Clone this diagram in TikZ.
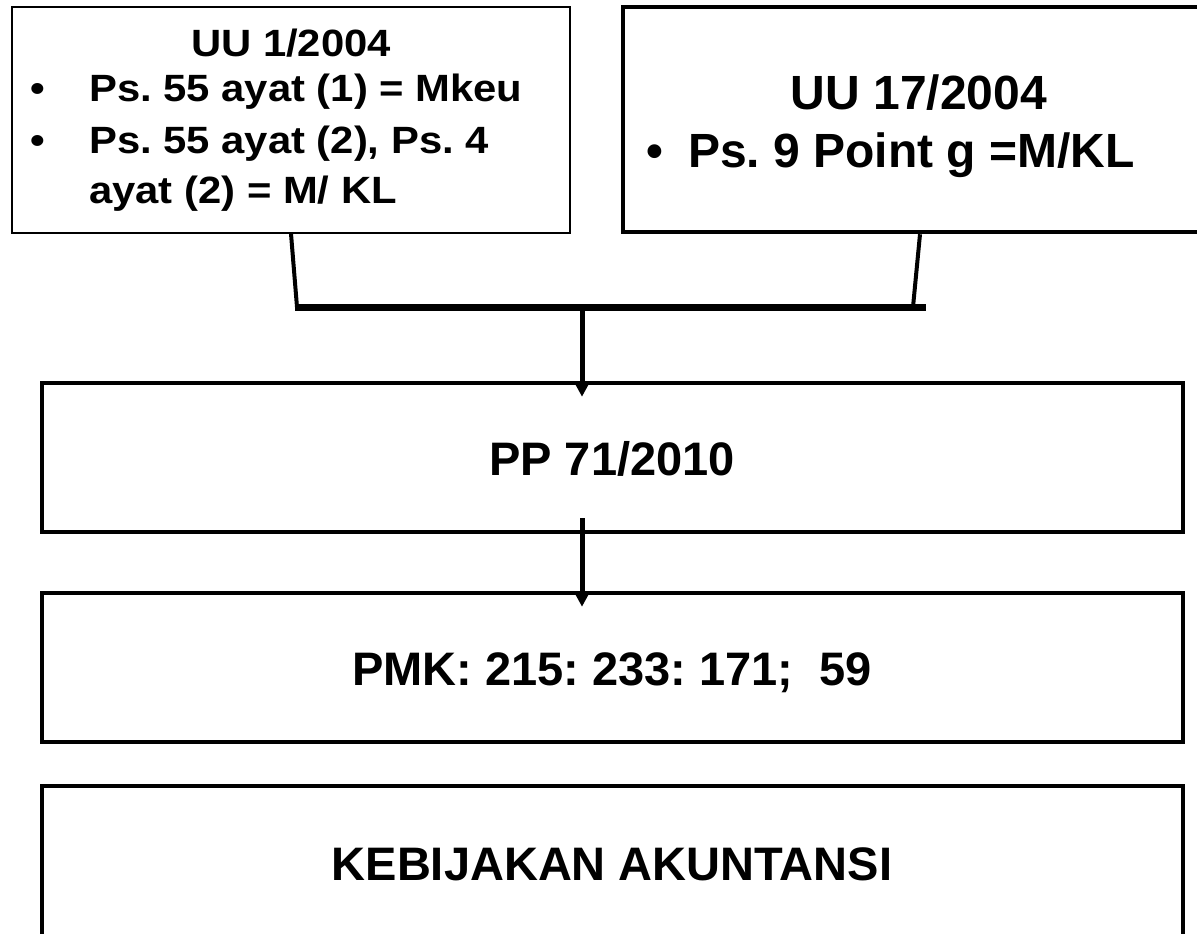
\documentclass[tikz,border=0pt]{standalone}
\usepackage{fontspec}
\setmainfont{Liberation Sans}
\newfontfamily\leftfont[FakeStretch=1.1]{Liberation Sans}
\usetikzlibrary{arrows.meta}
\frenchspacing
\begin{document}
\begin{tikzpicture}[x=1pt,y=-1pt,
  boxthin/.style={draw, line width=1.5pt, inner sep=0pt},
  boxthick/.style={draw, line width=4.5pt, inner sep=0pt},
  conn/.style={line width=4pt},
  bar/.style={line width=7pt},
  arr/.style={line width=5pt, -{Triangle[width=14pt,length=14pt]}},
  txt/.style={font=\bfseries\fontsize{47}{56}\selectfont, inner sep=0pt, anchor=base},
  rtxt/.style={font=\bfseries\fontsize{48}{56}\selectfont, inner sep=0pt, anchor=base},
  rtxtw/.style={rtxt, anchor=base west},
  ltxt/.style={font=\leftfont\bfseries\fontsize{38}{50}\selectfont, inner sep=0pt, anchor=base},
  ltxtw/.style={ltxt, anchor=base west},
]
\useasboundingbox (0,0) rectangle (1197,934);

% boxes
\node[boxthin, minimum width=558pt, minimum height=226pt] (tl) at (291,120) {};
\node[boxthick, minimum width=594pt, minimum height=225pt] (tr) at (920,119.5) {};
\node[boxthick, minimum width=1141pt, minimum height=149pt] (pp) at (612.5,457.5) {};
\node[boxthick, minimum width=1141pt, minimum height=149pt] (pmk) at (612.5,667.5) {};
\node[boxthick, minimum width=1141pt, minimum height=174pt] (keb) at (612.5,873) {};

% texts of the left box
\node[ltxt] (tlh) at (291,57) {UU 1/2004};
\node[ltxt] (tlb1) at (38,102) {•};
\node[ltxtw] (tl1) at (89,102) {Ps. 55 ayat (1) = Mkeu};
\node[ltxt] (tlb2) at (38,153) {•};
\node[ltxtw] (tl2) at (89,153) {Ps. 55 ayat (2), Ps. 4};
\node[ltxtw] (tl3) at (89,203) {ayat (2) = M/ KL};

% texts of the right box
\node[rtxt] (trh) at (919,109) {UU 17/2004};
\node[rtxt] (trb) at (655,167) {•};
\node[rtxtw] (tr1) at (688,167) {Ps. 9 Point g =M/KL};

% texts of the lower boxes
\node[txt] (ppt) at (612,475) {PP 71/2010};
\node[txt] (pmkt) at (612,685) {PMK: 215: 233: 171;\ \ 59};
\node[txt] (kebt) at (612,880) {KEBIJAKAN AKUNTANSI};

% connectors
\coordinate (jl) at (297,307);
\coordinate (jr) at (913,307);
\coordinate (jm) at (582,307);
\coordinate (a2) at (582,518);
\draw[conn] (tl.south) -- (jl);
\draw[conn] (tr.south) -- (jr);
\draw[bar] ([xshift=-2pt]jl) -- ([xshift=13pt]jr);
\draw[arr] (jm) -- ([yshift=-16pt]jm |- pp.north);
\draw[arr] (a2) -- ([yshift=-16pt]a2 |- pmk.north);
\end{tikzpicture}
\end{document}
